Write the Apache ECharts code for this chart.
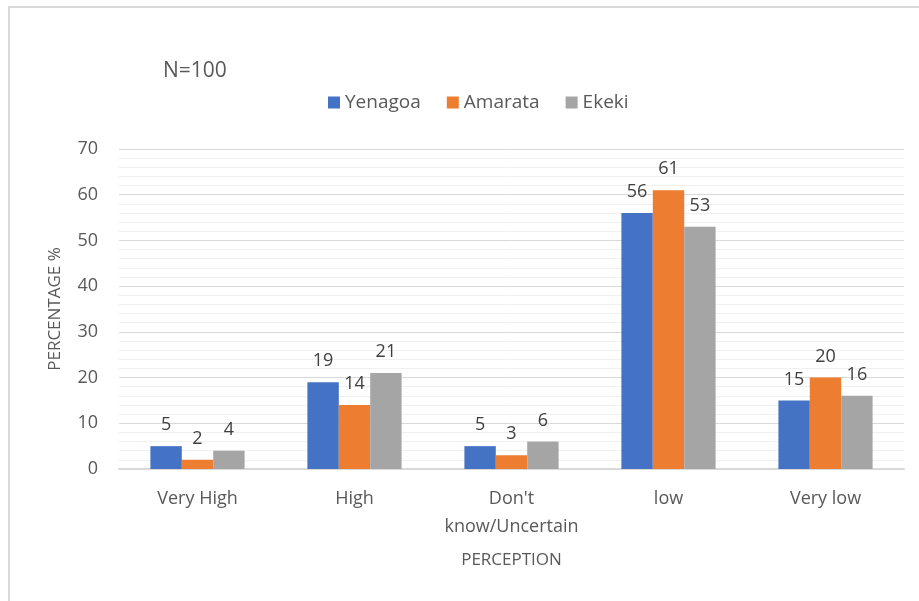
<!DOCTYPE html>
<html>
<head>
<meta charset="utf-8">
<script src="https://cdn.jsdelivr.net/npm/echarts@6/dist/echarts.min.js"></script>
<style>
  html, body { margin: 0; padding: 0; background: #fff; }
  #chart { width: 919px; height: 601px; }
</style>
</head>
<body>
<div id="chart"></div>
<script>
// Perception ratings by community (percent of respondents)
const categories = ['Very High', 'High', "Don't\nknow/Uncertain", 'low', 'Very low'];
const yenagoa = [5, 19, 5, 56, 15];
const amarata = [2, 14, 3, 61, 20];
const ekeki = [4, 21, 6, 53, 16];
const yTicks = { min: 0, max: 70, interval: 10 };

const FONT = "'Open Sans', 'Noto Sans', sans-serif";
const TEXT = '#595959';

const chart = echarts.init(document.getElementById('chart'), null, { renderer: 'canvas' });

function barSeries(name, data, color) {
  return {
    name: name,
    type: 'bar',
    data: data,
    barGap: '0%',
    barCategoryGap: '40%',
    itemStyle: { color: color },
    label: {
      show: true,
      position: 'top',
      distance: 12,
      color: '#404040',
      fontFamily: FONT,
      fontSize: 18
    }
  };
}

chart.setOption({
  animation: false,
  backgroundColor: '#ffffff',
  textStyle: { fontFamily: FONT, color: TEXT },
  title: {
    text: 'N=100',
    left: 158,
    top: 56,
    textStyle: { fontFamily: FONT, fontSize: 21, fontWeight: 'normal', color: TEXT }
  },
  legend: {
    top: 88,
    left: 323,
    itemWidth: 12,
    itemHeight: 12,
    itemGap: 26,
    icon: 'rect',
    textStyle: { fontFamily: FONT, fontSize: 19, color: TEXT },
    data: ['Yenagoa', 'Amarata', 'Ekeki']
  },
  grid: { left: 119, right: 15, top: 149, bottom: 132, containLabel: false },
  xAxis: {
    type: 'category',
    data: categories,
    name: 'PERCEPTION',
    nameLocation: 'middle',
    nameGap: 83,
    nameTextStyle: { fontFamily: FONT, fontSize: 17, color: TEXT },
    axisLine: { lineStyle: { color: '#d9d9d9', width: 2 } },
    axisTick: { show: false },
    axisLabel: {
      fontFamily: FONT,
      fontSize: 18,
      color: TEXT,
      margin: 16,
      lineHeight: 28,
      interval: 0
    }
  },
  yAxis: {
    type: 'value',
    min: yTicks.min,
    max: yTicks.max,
    interval: yTicks.interval,
    name: 'PERCENTAGE %',
    nameLocation: 'middle',
    nameGap: 55,
    nameRotate: 90,
    nameTextStyle: { fontFamily: FONT, fontSize: 17, color: TEXT },
    axisLine: { show: false },
    axisTick: { show: false },
    axisLabel: { fontFamily: FONT, fontSize: 18, color: TEXT, margin: 21 },
    splitLine: { lineStyle: { color: '#d9d9d9', width: 1 } },
    minorTick: { show: false, splitNumber: 5 },
    minorSplitLine: { show: true, lineStyle: { color: '#f0f0f0', width: 1 } }
  },
  graphic: [{
    type: 'rect',
    silent: true,
    z: -1,
    shape: { x: 9, y: 7, width: 940, height: 620 },
    style: { fill: 'none', stroke: '#d9d9d9', lineWidth: 2 }
  }],
  series: [
    barSeries('Yenagoa', yenagoa, '#4472c4'),
    barSeries('Amarata', amarata, '#ed7d31'),
    barSeries('Ekeki', ekeki, '#a5a5a5')
  ]
});
</script>
</body>
</html>
